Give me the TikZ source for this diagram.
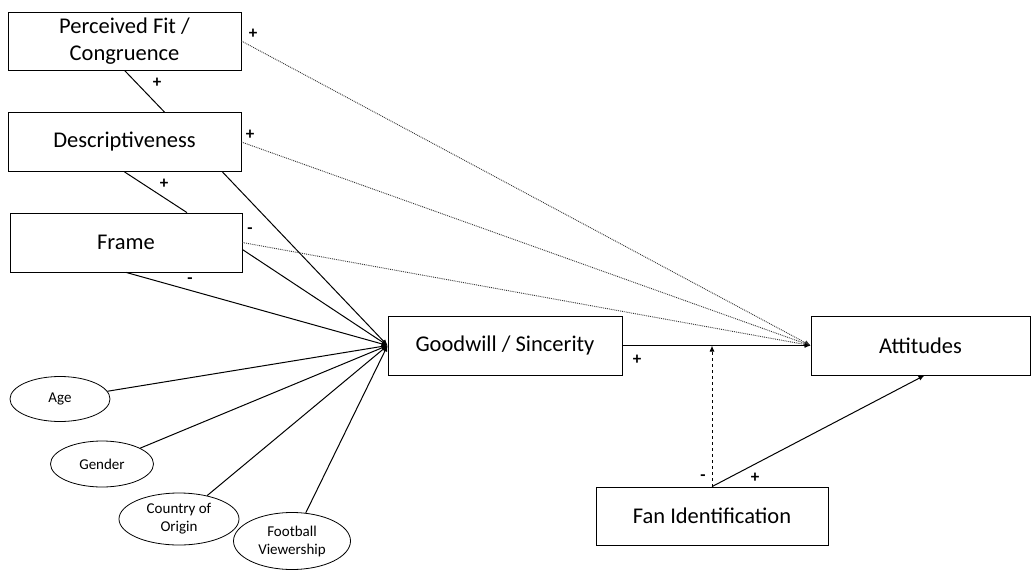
\documentclass[tikz,border=0pt]{standalone}
\usepackage{fontspec}
\setmainfont{Carlito}
\usetikzlibrary{shapes.geometric,arrows.meta}
\begin{document}
\begin{tikzpicture}[x=1pt, y=-1pt,
            box/.style={draw, thick, inner sep=0pt, align=center, font=\fontsize{22.5}{27}\selectfont},
            oval/.style={draw, thick, ellipse, inner sep=0pt, align=center, font=\fontsize{15}{18}\selectfont},
            link/.style={line width=1pt},
            dotlink/.style={densely dotted, line width=0.9pt, draw=black!80},
            sign/.style={inner sep=0pt, font=\fontsize{17}{17}\selectfont\bfseries},
            tip/.style={-{Latex[length=6pt,width=5pt]}}]
            \useasboundingbox (0,0) rectangle (1035,572);
            \node[box, minimum width=233pt, minimum height=58pt] (perc) at (124.5,41) {Perceived Fit /\\Congruence};
            \node[box, minimum width=233pt, minimum height=59pt] (desc) at (124.5,142) {Descriptiveness};
            \node[box, minimum width=232pt, minimum height=59pt] (frame) at (126,242.5) {Frame};
            \node[box, minimum width=234pt, minimum height=59pt] (gw) at (505,345.5) {Goodwill / Sincerity};
            \node[box, minimum width=219pt, minimum height=59pt] (att) at (920.5,345.5) {Attitudes};
            \node[box, minimum width=232pt, minimum height=58pt] (fan) at (712,516) {Fan Identification};
            \node[oval, minimum width=100pt, minimum height=45pt] (age) at (60,399) {Age};
            \node[oval, minimum width=103pt, minimum height=46pt] (gender) at (102,464) {Gender};
            \node[oval, minimum width=120pt, minimum height=52pt] (origin) at (179,519) {Country of\\Origin};
            \node[oval, minimum width=117pt, minimum height=57pt] (football) at (292,541) {Football\\Viewership};
            \draw[link] (perc.south) -- ([xshift=40pt]desc.north);
            \draw[link] (desc.south) -- ([xshift=61pt]frame.north);
            \draw[link, tip] (frame.south) -- (gw.west);
            \draw[link, tip] ([xshift=-19pt]desc.south east) -- (gw.west);
            \draw[link, tip] ([yshift=-7pt]frame.east) -- (gw.west);
            \foreach \v in {age, gender, origin, football}
                \draw[link, tip] (\v) -- (gw.west);
            \draw[dotlink, tip] (perc.east) -- (att.west);
            \draw[dotlink, tip] (desc.east) -- (att.west);
            \draw[dotlink, tip] (frame.east) -- (att.west);
            \draw[link, tip] (gw.east) -- (att.west);
            \draw[link, dashed, tip] (fan.north) -- (fan.north |- gw.east);
            \draw[link, tip] (fan.north) -- ([xshift=4pt]att.south);
            \node[sign] (s1) at (253,34) {+};
            \node[sign] (s2) at (157,83) {+};
            \node[sign] (s3) at (250,135) {+};
            \node[sign] (s4) at (164,184) {+};
            \node[sign] (s5) at (250,231) {-};
            \node[sign] (s6) at (190,281) {-};
            \node[sign] (s7) at (637,360) {+};
            \node[sign] (s8) at (703,478) {-};
            \node[sign] (s9) at (755,478) {+};
        \end{tikzpicture}
\end{document}
